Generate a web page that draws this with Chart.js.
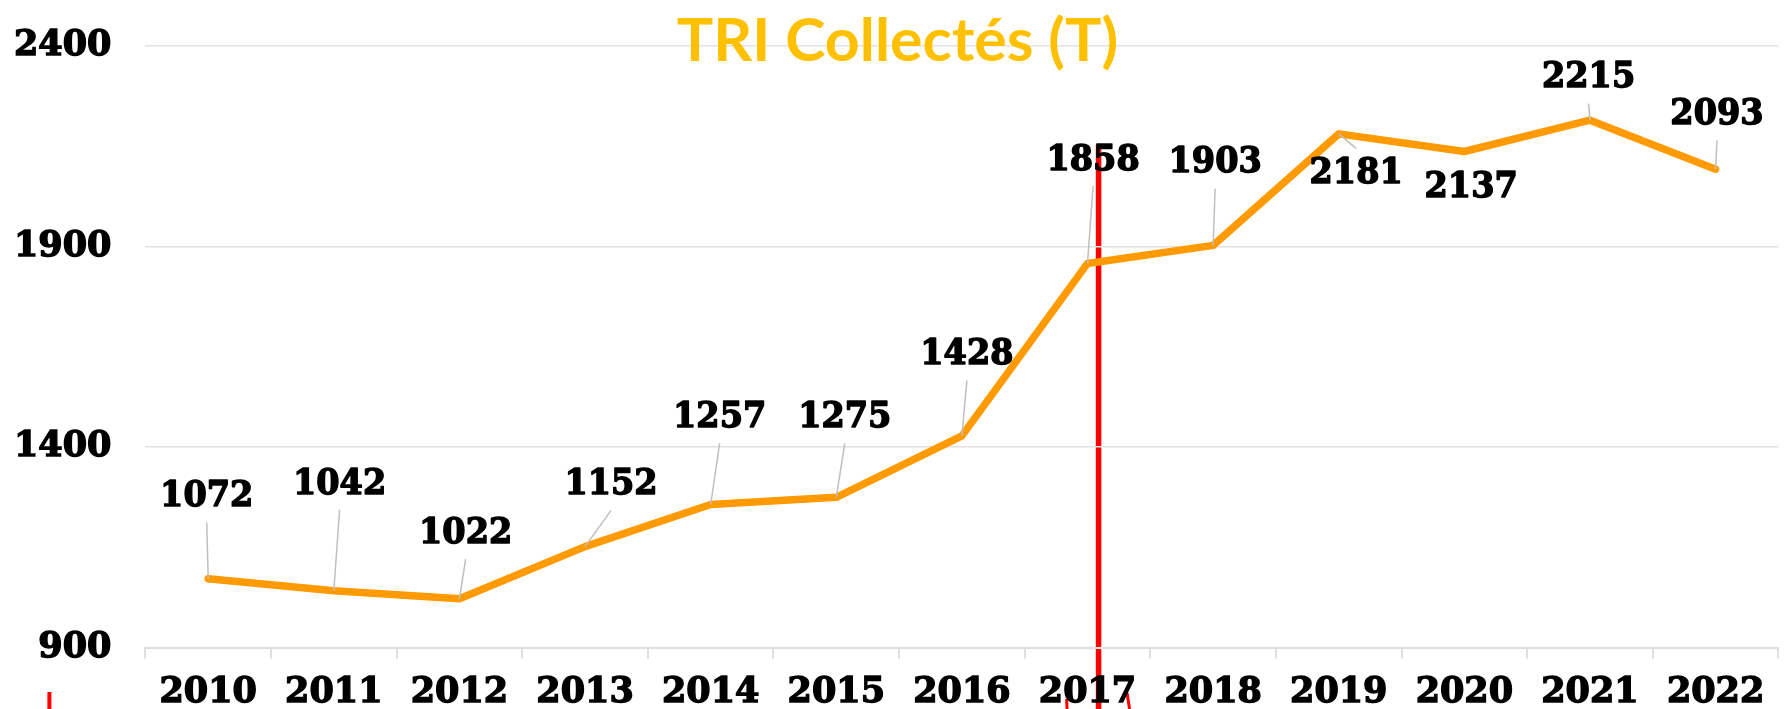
<!DOCTYPE html>
<html>
<head>
<meta charset="utf-8">
<script src="https://cdn.jsdelivr.net/npm/chart.js@4.4.1/dist/chart.umd.min.js"></script>
<style>
html,body{margin:0;padding:0;background:#fff;overflow:hidden}
#wrap{position:relative;width:1785px;height:709px}
</style>
</head>
<body>
<div id="wrap"><canvas id="c" width="1785" height="709"></canvas></div>
<script>
// ---- data ----
const years = ['2010','2011','2012','2013','2014','2015','2016','2017','2018','2019','2020','2021','2022'];
const tonnage = [1072,1042,1022,1152,1257,1275,1428,1858,1903,2181,2137,2215,2093];
const yTickValues = [900,1400,1900,2400];
const titleText = 'TRI Collectés (T)';
const markerYear = '2017';

// label placement (pixel offsets of each value label from its point)
const labelDx = [-1.5, 5.8, 6.2, 26, 9, 8.5, 5, 5.6, 2, 17.4, 6.8, -1.4, 1.4];
const labelDy = [-81.7, -106.5, -65.1, -61.7, -86.7, -79.5, -81, -103.2, -82.2, 40, 35.7, -42.1, -54.3];

const serifBold = '"DejaVu Serif", serif';

const decorPlugin = {
  id: 'decor',
  beforeDraw(chart) {
    const ctx = chart.ctx;
    const xs = chart.scales.x;
    const idx = years.indexOf(markerYear);
    const step = xs.getPixelForValue(1) - xs.getPixelForValue(0);
    const mx = xs.getPixelForValue(idx) + step * 0.088;
    ctx.save();
    ctx.strokeStyle = '#FF0000';
    ctx.lineWidth = 5.5;
    ctx.beginPath();
    ctx.moveTo(mx, 145);
    ctx.lineTo(mx, chart.height);
    ctx.stroke();
    ctx.lineWidth = 3;
    ctx.beginPath();
    ctx.moveTo(mx - 32, 699); ctx.lineTo(mx - 31.5, chart.height);
    ctx.moveTo(mx + 28.5, 693); ctx.lineTo(mx + 31, chart.height);
    ctx.stroke();
    ctx.lineWidth = 4;
    ctx.beginPath();
    ctx.moveTo(chart.chartArea.left - 96, 692); ctx.lineTo(chart.chartArea.left - 96, chart.height);
    ctx.stroke();
    ctx.restore();
  },
  afterDatasetsDraw(chart) {
    const ctx = chart.ctx;
    const meta = chart.getDatasetMeta(0);
    ctx.save();
    ctx.textAlign = 'center';
    ctx.textBaseline = 'middle';
    meta.data.forEach((pt, i) => {
      const lx = pt.x + labelDx[i];
      const ly = pt.y + labelDy[i];
      const above = labelDy[i] < 0;
      const sx = lx;
      const sy = above ? ly + 25.5 : ly - 25.5;
      const len = Math.hypot(pt.x - sx, pt.y - sy);
      if (len > 14 && (above ? sy < pt.y : sy > pt.y)) {
        ctx.strokeStyle = '#BFBFBF';
        ctx.lineWidth = 1.5;
        ctx.beginPath();
        ctx.moveTo(sx, sy);
        ctx.lineTo(pt.x, pt.y);
        ctx.stroke();
      }
      ctx.save();
      ctx.translate(lx, ly);
      ctx.scale(1, 1.07);
      ctx.font = 'bold 33.5px ' + serifBold;
      ctx.fillStyle = '#000000';
      ctx.strokeStyle = '#000000';
      ctx.lineWidth = 1.4;
      ctx.lineJoin = 'round';
      ctx.strokeText(String(tonnage[i]), 0, 0);
      ctx.fillText(String(tonnage[i]), 0, 0);
      ctx.restore();
    });
    // title
    ctx.font = 'bold 60px Lato, "Open Sans", sans-serif';
    ctx.textAlign = 'left';
    ctx.textBaseline = 'alphabetic';
    const w = ctx.measureText(titleText).width;
    const targetW = 441.6;
    const sc = targetW / w;
    ctx.translate(897.5 - targetW / 2, 60.7);
    ctx.scale(sc, 1);
    ctx.fillStyle = '#FFC000';
    ctx.fillText(titleText, 0, 0);
    ctx.restore();
  }
};

new Chart(document.getElementById('c'), {
  type: 'line',
  data: {
    labels: years,
    datasets: [{
      data: tonnage,
      borderColor: '#FF9A00',
      backgroundColor: '#FF9A00',
      borderWidth: 7.5,
      pointRadius: 0,
      pointHoverRadius: 0,
      tension: 0,
      borderJoinStyle: 'round',
      borderCapStyle: 'round',
      fill: false
    }]
  },
  options: {
    responsive: false,
    animation: false,
    events: [],
    layout: { padding: { top: 46, right: 6.6, left: 0, bottom: 0 } },
    plugins: { legend: { display: false }, title: { display: false }, tooltip: { enabled: false } },
    scales: {
      x: {
        offset: true,
        afterFit(scale) { scale.height = 61.3; scale.paddingLeft = 0; scale.paddingRight = 0; },
        grid: { display: true, drawOnChartArea: false, drawTicks: true, tickLength: 11, offset: true, color: '#E0E0E0', lineWidth: 2 },
        border: { display: true, color: '#E0E0E0', width: 2 },
        ticks: { color: '#000', textStrokeColor: '#000', textStrokeWidth: 1.4, padding: 13, maxRotation: 0, autoSkip: false, font: { family: serifBold, size: 35, weight: 'bold' } }
      },
      y: {
        min: 900,
        max: 2400,
        afterFit(scale) { scale.width = 145.4; scale.paddingTop = 0; scale.paddingBottom = 0; },
        afterBuildTicks(scale) { scale.ticks = yTickValues.map(v => ({ value: v })); },
        grid: { display: true, drawTicks: false, color: '#E2E2E2', lineWidth: 1.6 },
        border: { display: false },
        ticks: { color: '#000', textStrokeColor: '#000', textStrokeWidth: 1.4, padding: 34, callback: (v) => String(v), font: { family: serifBold, size: 35, weight: 'bold' } }
      }
    }
  },
  plugins: [decorPlugin]
});
</script>
</body>
</html>
